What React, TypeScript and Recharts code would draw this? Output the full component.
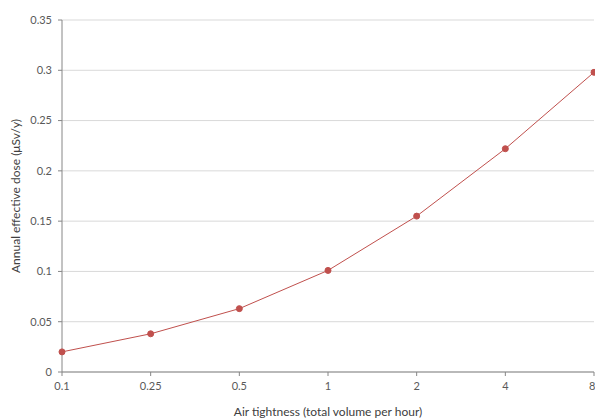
import { LineChart, Line, XAxis, YAxis, CartesianGrid, Label } from "recharts";

const airTightness = ["0.1", "0.25", "0.5", "1", "2", "4", "8"];
const annualDose = [0.02, 0.038, 0.063, 0.101, 0.155, 0.222, 0.298];
const yTicks = [0, 0.05, 0.1, 0.15, 0.2, 0.25, 0.3, 0.35];

const data = airTightness.map((x, i) => ({ x, dose: annualDose[i] }));

const font = "Lato, 'Open Sans', sans-serif";

export default function App() {
  return (
    <div style={{ position: "absolute", left: 0, top: 0, background: "#fff" }}>
      <LineChart
        width={595}
        height={420}
        data={data}
        margin={{ top: 20, right: 1, bottom: 0, left: 0 }}
      >
        <CartesianGrid vertical={false} stroke="#d9d9d9" />
        <XAxis
          dataKey="x"
          height={48}
          stroke="#868686"
          tickSize={4}
          tick={{ fill: "#595959", fontSize: 11, fontFamily: font }}
          tickMargin={6}
        >
          <Label
            value="Air tightness (total volume per hour)"
            position="insideBottom"
            offset={4}
            style={{ fill: "#404040", fontSize: 12, fontFamily: font }}
          />
        </XAxis>
        <YAxis
          width={62}
          domain={[0, 0.35]}
          ticks={yTicks}
          stroke="#868686"
          tickSize={4}
          tickMargin={6}
          tick={{ fill: "#595959", fontSize: 11, fontFamily: font }}
        >
          <Label
            value="Annual effective dose (μSv/y)"
            angle={-90}
            position="insideLeft"
            offset={16}
            style={{ textAnchor: "middle", fill: "#404040", fontSize: 12, fontFamily: font }}
          />
        </YAxis>
        <Line
          type="linear"
          dataKey="dose"
          stroke="#c0504d"
          strokeWidth={1}
          dot={{ r: 3, fill: "#c0504d", stroke: "#c0504d" }}
          isAnimationActive={false}
        />
      </LineChart>
    </div>
  );
}
